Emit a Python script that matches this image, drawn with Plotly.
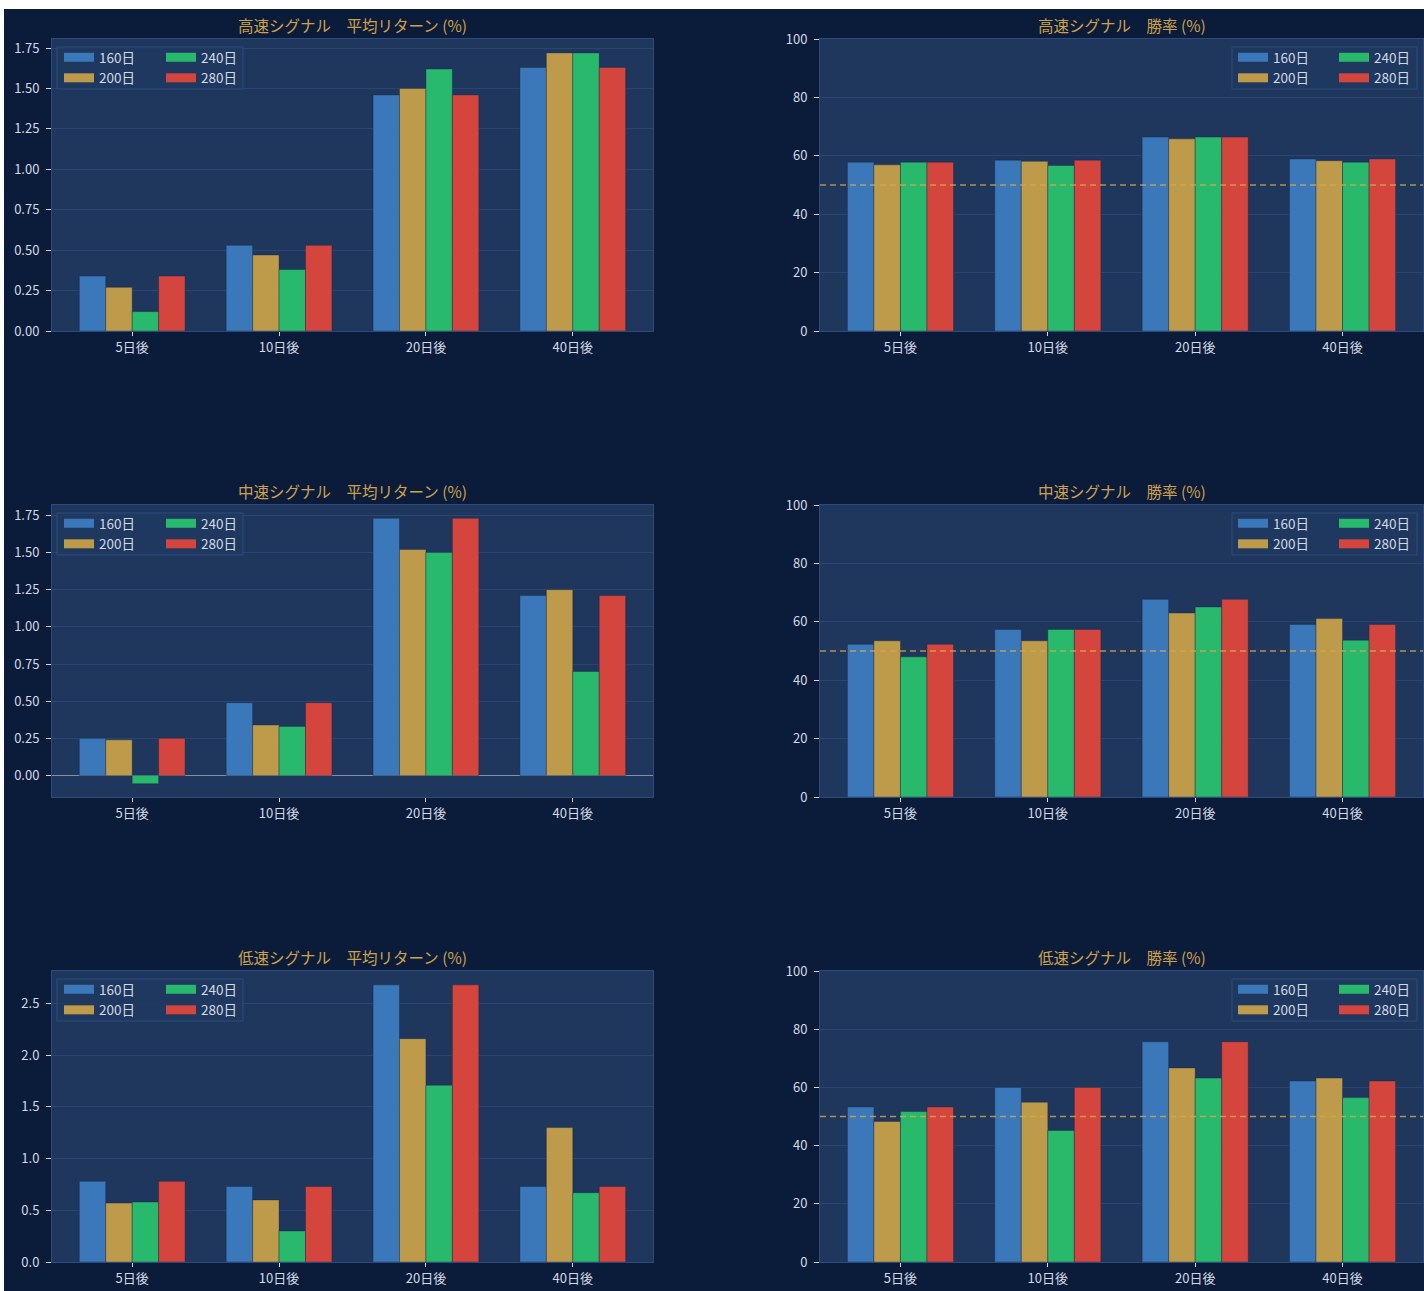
import plotly.graph_objects as go

# ---------------- data ----------------
categories = ["5日後", "10日後", "20日後", "40日後"]
periods = ["160日", "200日", "240日", "280日"]
colors = ["#3a78b9", "#be9a4b", "#28b96c", "#d4463d"]

# rows: 160日, 200日, 240日, 280日 ; columns: categories
fast_return = [
    [0.34, 0.53, 1.46, 1.63],
    [0.27, 0.47, 1.50, 1.72],
    [0.12, 0.38, 1.62, 1.72],
    [0.34, 0.53, 1.46, 1.63],
]
fast_winrate = [
    [57.8, 58.5, 66.4, 58.9],
    [56.9, 58.1, 65.8, 58.3],
    [57.8, 56.7, 66.4, 57.8],
    [57.8, 58.5, 66.4, 58.9],
]
mid_return = [
    [0.25, 0.49, 1.73, 1.21],
    [0.24, 0.34, 1.52, 1.25],
    [-0.055, 0.33, 1.50, 0.70],
    [0.25, 0.49, 1.73, 1.21],
]
mid_winrate = [
    [52.3, 57.4, 67.7, 59.1],
    [53.5, 53.5, 63.0, 61.1],
    [48.0, 57.4, 65.1, 53.7],
    [52.3, 57.4, 67.7, 59.1],
]
slow_return = [
    [0.78, 0.73, 2.68, 0.73],
    [0.57, 0.60, 2.16, 1.30],
    [0.58, 0.30, 1.71, 0.67],
    [0.78, 0.73, 2.68, 0.73],
]
slow_winrate = [
    [53.3, 60.0, 75.7, 62.2],
    [48.3, 54.9, 66.7, 63.2],
    [51.7, 45.2, 63.2, 56.5],
    [53.3, 60.0, 75.7, 62.2],
]
titles = [
    "高速シグナル　平均リターン (%)", "高速シグナル　勝率 (%)",
    "中速シグナル　平均リターン (%)", "中速シグナル　勝率 (%)",
    "低速シグナル　平均リターン (%)", "低速シグナル　勝率 (%)",
]
panels = [fast_return, fast_winrate, mid_return, mid_winrate, slow_return, slow_winrate]
winrate_ref = 50

# ---------------- style / geometry ----------------
FONT = "Noto Sans CJK JP"
FIG_BG = "#0b1c3b"
PLOT_BG = "#1f365d"
SPINE = "#2c4b7c"
GRID = "rgba(70,105,160,0.30)"
TICK_TXT = "#d3d9e3"
TITLE_C = "#cfa24a"

OX, OY = 4, 9          # page offset of the figure
ML, MT, MR, MB = 48, 30, 1, 29
W, H = 1371, 1223
FW, FH = ML + W + MR, MT + H + MB


def px(xp):
    return (xp - OX - ML) / W


def py(yp):
    return 1 - (yp - OY - MT) / H


col_x = [(52, 653), (820, 1423)]
row_y = [(39, 331), (505, 797), (971, 1262)]

fig = go.Figure()
layout = dict(
    width=FW, height=FH,
    margin=dict(l=ML, r=MR, t=MT, b=MB, pad=0),
    paper_bgcolor=FIG_BG, plot_bgcolor=PLOT_BG,
    barmode="group", bargap=0.28, bargroupgap=0,
    font=dict(family=FONT, size=13, color=TICK_TXT),
    showlegend=True,
)
shapes = []
annotations = []

for i, data in enumerate(panels):
    r, c = divmod(i, 2)
    s = "" if i == 0 else str(i + 1)
    xa, ya = "x" + s, "y" + s
    x0p, x1p = col_x[c]
    ytop, ybot = row_y[r]
    is_ret = (c == 0)

    for j in range(4):
        fig.add_trace(go.Bar(
            x=categories, y=data[j], name=periods[j],
            marker=dict(color=colors[j], line=dict(width=0.8, color="rgba(20,35,70,0.45)")),
            xaxis=xa, yaxis=ya, showlegend=False,
        ))
    # legend proxies (2 columns)
    for j in range(4):
        n = 2 * i + (0 if j < 2 else 1)
        lid = "legend" if n == 0 else f"legend{n + 1}"
        fig.add_trace(go.Scatter(
            x=[None], y=[None], mode="lines", name=periods[j],
            line=dict(color=colors[j], width=9),
            xaxis=xa, yaxis=ya, legend=lid, showlegend=True, hoverinfo="skip",
        ))

    # legend placement
    if c == 0:
        lx = [59, 161]
        box = (57, 243)
    else:
        lx = [1233, 1334]
        box = (1232, 1417)
    for k in range(2):
        n = 2 * i + k
        lid = "legend" if n == 0 else f"legend{n + 1}"
        layout[lid] = dict(
            x=px(lx[k]), y=py(ytop + 3), xanchor="left", yanchor="top",
            bgcolor="rgba(0,0,0,0)", borderwidth=0, orientation="v",
            font=dict(family=FONT, size=13.5, color=TICK_TXT), tracegroupgap=0,
        )
    shapes.append(dict(
        type="rect", xref="paper", yref="paper",
        x0=px(box[0]), x1=px(box[1]), y0=py(ytop + 50), y1=py(ytop + 8),
        fillcolor="rgba(31,56,96,0.85)", line=dict(color="#2d4c7e", width=1),
        layer="above",
    ))

    # axis ranges
    neg = False
    if is_ret:
        flat = [v for row in data for v in row]
        lo, hi = min(0, min(flat)), max(0, max(flat))
        neg = lo < 0
        pad = 0.05 * (hi - lo)
        yr = [lo - pad if neg else 0, hi + pad]
        if max(flat) > 2:
            dt, fmt = 0.5, ".1f"
        else:
            dt, fmt = 0.25, ".2f"
    else:
        yr = [0, 100]
        dt, fmt = 20, "d"

    layout["xaxis" + s] = dict(
        domain=[px(x0p), px(x1p)], anchor=ya, type="category",
        range=[-0.546, 3.546], showgrid=False, zeroline=False,
        showline=True, linecolor=SPINE, linewidth=1, mirror=True,
        ticks="outside", ticklen=4, tickwidth=1, tickcolor=TICK_TXT,
        tickfont=dict(family=FONT, size=13, color=TICK_TXT),
    )
    layout["yaxis" + s] = dict(
        domain=[py(ybot), py(ytop)], anchor=xa, range=yr,
        tick0=0, dtick=dt, tickformat=fmt,
        showgrid=True, gridcolor=GRID, gridwidth=1,
        zeroline=neg, zerolinecolor="rgba(170,182,200,0.7)", zerolinewidth=1.3,
        showline=True, linecolor=SPINE, linewidth=1, mirror=True,
        ticks="outside", ticklen=5, tickwidth=1, tickcolor=TICK_TXT,
        ticklabelstandoff=4,
        tickfont=dict(family=FONT, size=13, color=TICK_TXT),
    )

    if not is_ret:
        shapes.append(dict(
            type="line", xref=f"x{s} domain", yref=ya, x0=0, x1=1,
            y0=winrate_ref, y1=winrate_ref,
            line=dict(color="rgba(214,170,74,0.8)", width=1.5, dash="6px,4px"),
            layer="above",
        ))

    annotations.append(dict(
        text=titles[i], xref="paper", yref="paper",
        x=(px(x0p) + px(x1p)) / 2, y=py(ytop), xanchor="center", yanchor="bottom",
        yshift=1, showarrow=False,
        font=dict(family=FONT, size=15.5, color=TITLE_C),
    ))

layout["shapes"] = shapes
layout["annotations"] = annotations
fig.update_layout(**layout)

fig.write_html(
    "out.html",
    post_script="document.body.style.margin='9px 0 0 4px';document.body.style.overflow='hidden';",
)
